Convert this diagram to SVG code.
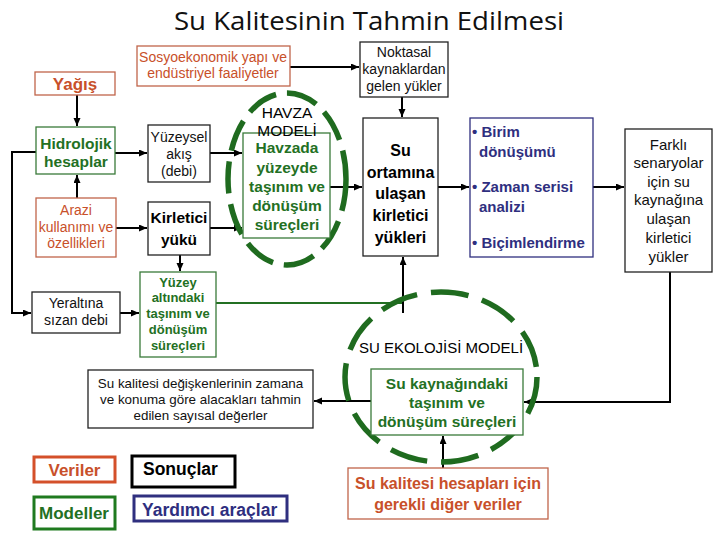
<svg xmlns="http://www.w3.org/2000/svg" width="720" height="540" viewBox="0 0 720 540">
<style>
text{font-family:"Liberation Sans",Arial,sans-serif;text-anchor:middle;}
.t{font-size:14px;fill:#111;}
.tb{font-size:16px;font-weight:bold;fill:#000;}
.o{fill:#c8502a;}
.g{fill:#237023;font-weight:bold;}
.n{fill:#2f2f7f;font-weight:bold;font-size:15px;text-anchor:start;}
.bk{fill:#fff;stroke:#222;stroke-width:1.3;}
.bo{fill:#fff;stroke:#c0654a;stroke-width:1.3;}
.bg{fill:#fff;stroke:#3a7a3a;stroke-width:1.3;}
.bn{fill:#fff;stroke:#2f2f7f;stroke-width:1.3;}
.ell{fill:none;stroke:#1f6b1f;stroke-width:5.5;}
.c{fill:none;stroke:#000;stroke-width:2;}
</style>
<defs>
<marker id="ar" markerUnits="userSpaceOnUse" markerWidth="9" markerHeight="8" refX="8" refY="3.5" orient="auto">
<path d="M0,0 L8,3.5 L0,7 z" fill="#000"/>
</marker>
</defs>
<rect width="720" height="540" fill="#fff"/>
<text x="369" y="30" style="font-family:'Open Sans','Noto Sans',sans-serif;font-size:25px;fill:#111" textLength="390" lengthAdjust="spacingAndGlyphs">Su Kalitesinin Tahmin Edilmesi</text>

<g id="connectors">
<path class="c" d="M290,67 H359" marker-end="url(#ar)"/>
<path class="c" d="M402,97 V117" marker-end="url(#ar)"/>
<path class="c" d="M438,187 H469" marker-end="url(#ar)"/>
<path class="c" d="M593,187 H624" marker-end="url(#ar)"/>
<path class="c" d="M670,272 V402 H524" marker-end="url(#ar)"/>
<path class="c" d="M77,95 V126" marker-end="url(#ar)"/>
<path class="c" d="M77,198 V175" marker-end="url(#ar)"/>
<path class="c" d="M115,153 H147" marker-end="url(#ar)"/>
<path class="c" d="M116,228 H147" marker-end="url(#ar)"/>
<path class="c" d="M210,153 H242" marker-end="url(#ar)"/>
<path class="c" d="M210,228 H242" marker-end="url(#ar)"/>
<path class="c" d="M330,187 H362" marker-end="url(#ar)"/>
<path class="c" d="M180,255 V271" marker-end="url(#ar)"/>
<path class="c" d="M36,152 H12 V313 H31" marker-end="url(#ar)"/>
<path class="c" d="M120,313 H139" marker-end="url(#ar)"/>
<path d="M216,303 H403" fill="none" stroke="#237023" stroke-width="2"/>
<path class="c" d="M403,313 V257" marker-end="url(#ar)"/>
<path class="c" d="M371,401 H314" marker-end="url(#ar)"/>
<path class="c" d="M443,468 V436" marker-end="url(#ar)"/>
</g>

<g id="sosyo">
<rect class="bo" x="137" y="46" width="153" height="40"/>
<text class="t o" x="213" y="62">Sosyoekonomik yapı ve</text>
<text class="t o" x="213" y="78">endüstriyel faaliyetler</text>
</g>
<g id="yagis">
<rect class="bo" x="35" y="72" width="80" height="23"/>
<text class="o" x="75" y="89.5" style="font-size:17px;font-weight:bold">Yağış</text>
</g>
<g id="noktasal">
<rect class="bk" x="360" y="42" width="88" height="55"/>
<text class="t" x="404" y="57">Noktasal</text>
<text class="t" x="404" y="74">kaynaklardan</text>
<text class="t" x="404" y="91">gelen yükler</text>
</g>
<g id="hidrolojik">
<rect class="bg" x="36" y="127" width="79" height="47"/>
<text class="g" x="76" y="148.5" style="font-size:15.5px">Hidrolojik</text>
<text class="g" x="76" y="166.5" style="font-size:15.5px">hesaplar</text>
</g>
<g id="arazi">
<rect class="bo" x="36" y="198" width="80" height="59"/>
<text class="t o" x="76" y="215">Arazi</text>
<text class="t o" x="76" y="232">kullanımı ve</text>
<text class="t o" x="76" y="248">özellikleri</text>
</g>
<g id="yuzeysel">
<rect class="bk" x="148" y="125" width="62" height="57"/>
<text class="t" x="179" y="142">Yüzeysel</text>
<text class="t" x="179" y="159">akış</text>
<text class="t" x="179" y="176">(debi)</text>
</g>
<g id="kirletici">
<rect class="bk" x="148" y="202" width="62" height="53"/>
<text class="tb" x="179" y="222.5" style="font-size:15.5px">Kirletici</text>
<text class="tb" x="179" y="244.5" style="font-size:15.5px">yükü</text>
</g>
<g id="havza">
<ellipse class="ell" cx="287" cy="179" rx="59" ry="86" stroke-dasharray="32 11"/>
<rect class="bg" x="243" y="133" width="87" height="105"/>
<text x="287" y="117.5" style="font-size:15.5px;fill:#000">HAVZA</text>
<text x="287" y="135.5" style="font-size:15.5px;fill:#000">MODELİ</text>
<text class="g" x="287" y="152.5" style="font-size:15.5px">Havzada</text>
<text class="g" x="287" y="172.5" style="font-size:15.5px">yüzeyde</text>
<text class="g" x="287" y="191.5" style="font-size:15.5px">taşınım ve</text>
<text class="g" x="287" y="210.5" style="font-size:15.5px">dönüşüm</text>
<text class="g" x="287" y="229.5" style="font-size:15.5px">süreçleri</text>
</g>
<g id="suortamina">
<rect class="bk" x="363" y="118" width="75" height="138"/>
<text class="tb" x="400.5" y="156">Su</text>
<text class="tb" x="400.5" y="178">ortamına</text>
<text class="tb" x="400.5" y="199">ulaşan</text>
<text class="tb" x="400.5" y="221">kirletici</text>
<text class="tb" x="400.5" y="243">yükleri</text>
</g>
<g id="araclar">
<rect class="bn" x="470" y="118" width="123" height="139"/>
<text class="n" x="472" y="137">• Birim</text>
<text class="n" x="479" y="156.5">dönüşümü</text>
<text class="n" x="472" y="192">• Zaman serisi</text>
<text class="n" x="479" y="212">analizi</text>
<text class="n" x="472" y="248">• Biçimlendirme</text>
</g>
<g id="farkli">
<rect class="bk" x="625" y="129" width="87" height="143"/>
<text class="t" x="668.5" y="150" style="font-size:15px">Farklı</text>
<text class="t" x="668.5" y="168" style="font-size:15px">senaryolar</text>
<text class="t" x="668.5" y="187" style="font-size:15px">için su</text>
<text class="t" x="668.5" y="205" style="font-size:15px">kaynağına</text>
<text class="t" x="668.5" y="224" style="font-size:15px">ulaşan</text>
<text class="t" x="668.5" y="243" style="font-size:15px">kirletici</text>
<text class="t" x="668.5" y="262" style="font-size:15px">yükler</text>
</g>
<g id="yeraltina">
<rect class="bk" x="32" y="292" width="88" height="41"/>
<text class="t" x="76" y="308">Yeraltına</text>
<text class="t" x="76" y="325">sızan debi</text>
</g>
<g id="yuzeyalti">
<rect class="bg" x="140" y="272" width="76" height="85"/>
<text class="g" x="178" y="286.5" style="font-size:13px">Yüzey</text>
<text class="g" x="178" y="301.5" style="font-size:13px">altındaki</text>
<text class="g" x="178" y="317.5" style="font-size:13px">taşınım ve</text>
<text class="g" x="178" y="333.5" style="font-size:13px">dönüşüm</text>
<text class="g" x="178" y="349.5" style="font-size:13px">süreçleri</text>
</g>
<g id="sonuc">
<rect class="bk" x="88" y="370" width="225" height="58"/>
<text class="t" x="200.5" y="388" style="font-size:13.4px">Su kalitesi değişkenlerinin zamana</text>
<text class="t" x="200.5" y="404" style="font-size:13.4px">ve konuma göre alacakları tahmin</text>
<text class="t" x="200.5" y="420" style="font-size:13.4px">edilen sayısal değerler</text>
</g>
<g id="ekoloji">
<ellipse class="ell" cx="441" cy="377" rx="96" ry="85" stroke-dasharray="38 14"/>
<text x="441" y="352.5" style="font-size:15px;fill:#000">SU EKOLOJİSİ MODELİ</text>
<rect class="bg" x="371" y="369" width="152" height="66"/>
<text class="g" x="447" y="388.5" style="font-size:15.5px">Su kaynağındaki</text>
<text class="g" x="447" y="407.5" style="font-size:15.5px">taşınım ve</text>
<text class="g" x="447" y="426.5" style="font-size:15.5px">dönüşüm süreçleri</text>
</g>
<g id="digerveri">
<rect class="bo" x="348" y="468" width="200" height="51"/>
<text class="o" x="448" y="489" style="font-size:16px;font-weight:bold">Su kalitesi hesapları için</text>
<text class="o" x="448" y="510" style="font-size:16px;font-weight:bold">gerekli diğer veriler</text>
</g>
<g id="legend-veriler">
<rect x="34" y="457" width="81" height="25" fill="#fff" stroke="#d4502a" stroke-width="3"/>
<text class="o" x="74.5" y="476" style="font-size:17px;font-weight:bold">Veriler</text>
</g>
<g id="legend-modeller">
<rect x="34" y="497" width="81" height="32" fill="#fff" stroke="#1f7a1f" stroke-width="3"/>
<text class="g" x="74" y="519" style="font-size:17px">Modeller</text>
</g>
<g id="legend-sonuclar">
<rect x="132" y="456" width="103" height="31" fill="#fff" stroke="#000" stroke-width="3"/>
<text x="143" y="475" style="font-size:17.5px;font-weight:bold;fill:#000;text-anchor:start">Sonuçlar</text>
</g>
<g id="legend-araclar">
<rect x="134" y="496" width="153" height="25" fill="#fff" stroke="#2f2f7f" stroke-width="3"/>
<text x="142" y="516" style="font-size:17.5px;font-weight:bold;fill:#2f2f7f;text-anchor:start">Yardımcı araçlar</text>
</g>
</svg>
